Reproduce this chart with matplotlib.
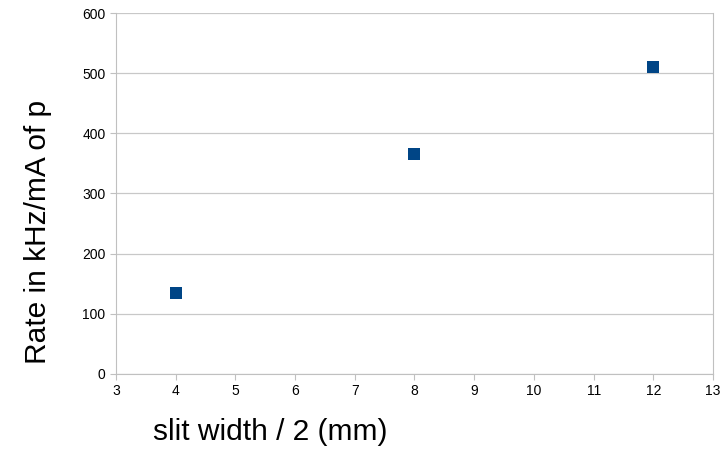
import matplotlib
matplotlib.use("Agg")
import matplotlib.pyplot as plt

slit = [4, 8, 12]
rate = [135, 366, 511]
xticks = list(range(3, 14))
yticks = list(range(0, 601, 100))

plt.rcParams['font.family'] = ['Liberation Sans', 'DejaVu Sans']

fig = plt.figure(figsize=(7.24, 4.5), dpi=100)
ax = fig.add_axes([0.160, 0.169, 0.825, 0.802])

ax.scatter(slit, rate, marker='s', s=70, color='#004586', zorder=3, linewidths=0)
ax.set_xlim(3, 13)
ax.set_ylim(0, 600)
ax.set_xticks(xticks)
ax.set_yticks(yticks)
ax.yaxis.grid(True, color='#c8c8c8', linewidth=0.9)
ax.set_axisbelow(True)
for side in ['left', 'bottom', 'right']:
    ax.spines[side].set_color('#c0c0c0')
ax.spines['top'].set_visible(False)
ax.tick_params(axis='both', colors='#c0c0c0', labelcolor='black', labelsize=10, length=4, direction='out')

fig.text(0.052, 0.485, 'Rate in kHz/mA of p', rotation=90, fontsize=21.5, ha='center', va='center')
fig.text(0.373, 0.04, 'slit width / 2 (mm)', fontsize=21.5, ha='center', va='center')

fig.savefig('out.png', dpi=100)
